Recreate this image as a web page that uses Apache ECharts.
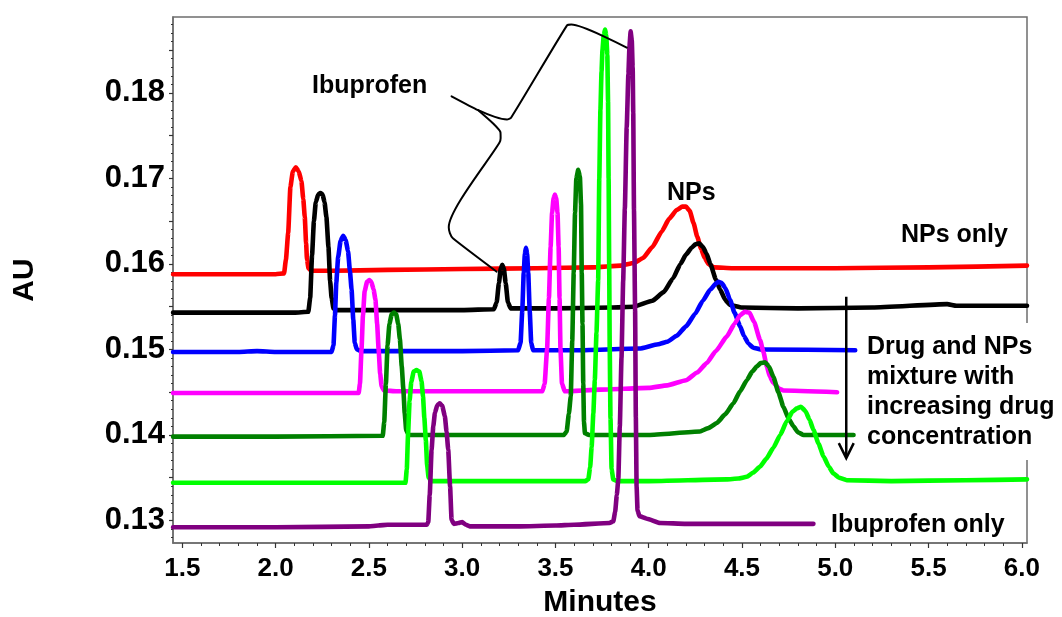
<!DOCTYPE html>
<html>
<head>
<meta charset="utf-8">
<script src="https://cdn.jsdelivr.net/npm/echarts@6/dist/echarts.min.js"></script>
<style>
  html, body { margin: 0; padding: 0; background: #fff; }
  #chart { width: 1062px; height: 617px; }
</style>
</head>
<body>
<div id="chart"></div>
<script>
// Chromatograms: absorbance (AU) against retention time (minutes), [minute, AU] pairs.
const npsOnly = [
  [1.45,0.1588],[1.80,0.1588],[2.00,0.1588],[2.045,0.1589],[2.055,0.1605],[2.067,0.1636],[2.079,0.1690],
  [2.092,0.1708],[2.108,0.1713],[2.124,0.1708],[2.138,0.1697],[2.148,0.1676],[2.156,0.1655],[2.163,0.1625],
  [2.168,0.1605],[2.176,0.1595],[2.19,0.1592],[2.30,0.1592],[2.60,0.1593],[3.00,0.1594],[3.40,0.1595],
  [3.70,0.1596],[3.85,0.1598],[3.92,0.1601],[3.97,0.1607],[4.02,0.1620],[4.07,0.1638],[4.11,0.1653],
  [4.15,0.1663],[4.18,0.1667],[4.20,0.1667],[4.22,0.1662],[4.24,0.1648],[4.26,0.1632],[4.28,0.1618],
  [4.30,0.1607],[4.32,0.1600],[4.35,0.1596],[4.45,0.1595],[5.00,0.1595],[5.50,0.1596],[6.028,0.1598]
];
const mixture1 = [
  [1.45,0.1543],[1.80,0.1543],[2.10,0.1543],[2.175,0.1544],[2.185,0.1560],[2.195,0.1610],[2.205,0.1650],
  [2.215,0.1672],[2.228,0.1681],[2.240,0.1683],[2.252,0.1681],[2.262,0.1672],[2.272,0.1655],[2.283,0.1620],
  [2.292,0.1580],[2.300,0.1560],[2.310,0.1548],[2.33,0.1546],[2.60,0.1546],[3.00,0.1546],[3.17,0.1547],
  [3.185,0.1555],[3.197,0.1578],[3.207,0.1595],[3.215,0.1599],[3.223,0.1595],[3.233,0.1578],[3.245,0.1555],
  [3.26,0.1548],[3.50,0.1548],[3.80,0.1549],[3.92,0.1550],[4.02,0.1557],[4.08,0.1567],[4.13,0.1583],
  [4.17,0.1600],[4.20,0.1611],[4.23,0.1619],[4.25,0.1623],[4.27,0.1624],[4.29,0.1620],[4.31,0.1612],
  [4.33,0.1600],[4.36,0.1582],[4.383,0.1570],[4.41,0.1558],[4.436,0.1552],[4.50,0.1549],[4.80,0.1548],
  [5.20,0.1549],[5.60,0.1553],[5.65,0.1551],[6.028,0.1551]
];
const mixture2 = [
  [1.45,0.1497],[1.80,0.1497],[1.90,0.1498],[2.00,0.1497],[2.30,0.1497],[2.31,0.1505],[2.318,0.1540],
  [2.325,0.1578],[2.335,0.1608],[2.348,0.1627],[2.362,0.1633],[2.375,0.1628],[2.388,0.1615],[2.398,0.1592],
  [2.407,0.1570],[2.416,0.1535],[2.424,0.1508],[2.435,0.1500],[2.46,0.1498],[3.00,0.1498],[3.30,0.1499],
  [3.313,0.1508],[3.322,0.1545],[3.330,0.1590],[3.336,0.1612],[3.342,0.1619],[3.348,0.1612],[3.354,0.1590],
  [3.362,0.1545],[3.370,0.1508],[3.38,0.1499],[3.60,0.1499],[3.95,0.1501],[4.05,0.1506],[4.10,0.1509],
  [4.15,0.1516],[4.20,0.1527],[4.25,0.1542],[4.29,0.1557],[4.33,0.1570],[4.36,0.1577],[4.375,0.1579],
  [4.39,0.1578],[4.41,0.1572],[4.436,0.1558],[4.46,0.1543],[4.49,0.1527],[4.51,0.1516],[4.534,0.1507],
  [4.56,0.1502],[4.60,0.1500],[5.107,0.1499]
];
const mixture3 = [
  [1.45,0.1449],[2.00,0.1449],[2.445,0.1449],[2.452,0.1460],[2.460,0.1499],[2.468,0.1540],[2.477,0.1568],
  [2.490,0.1579],[2.501,0.1581],[2.513,0.1579],[2.525,0.1570],[2.535,0.1558],[2.544,0.1530],[2.552,0.1500],
  [2.560,0.1472],[2.568,0.1457],[2.58,0.1452],[2.65,0.1451],[3.00,0.1451],[3.43,0.1451],[3.442,0.1460],
  [3.455,0.1500],[3.465,0.1560],[3.474,0.1620],[3.482,0.1660],[3.490,0.1677],[3.497,0.1681],[3.504,0.1677],
  [3.511,0.1660],[3.517,0.1620],[3.522,0.1560],[3.527,0.1500],[3.535,0.1460],[3.55,0.1451],[3.74,0.1453],
  [4.00,0.1455],[4.10,0.1458],[4.20,0.1464],[4.26,0.1473],[4.311,0.1484],[4.36,0.1498],[4.418,0.1515],
  [4.46,0.1530],[4.49,0.1540],[4.515,0.1544],[4.54,0.1543],[4.565,0.1532],[4.597,0.1511],[4.615,0.1497],
  [4.633,0.1480],[4.65,0.1468],[4.668,0.1461],[4.70,0.1454],[4.722,0.1452],[5.01,0.1450]
];
const mixture4 = [
  [1.45,0.1398],[2.00,0.1398],[2.574,0.1399],[2.582,0.1415],[2.591,0.1460],[2.600,0.1505],[2.610,0.1530],
  [2.622,0.1541],[2.634,0.1543],[2.646,0.1541],[2.657,0.1530],[2.666,0.1512],[2.676,0.1480],[2.684,0.1455],
  [2.692,0.1425],[2.700,0.1405],[2.715,0.1400],[3.00,0.1400],[3.545,0.1400],[3.560,0.1404],[3.572,0.1425],
  [3.582,0.1445],[3.590,0.1510],[3.598,0.1590],[3.605,0.1660],[3.612,0.1700],[3.622,0.1710],[3.631,0.1702],
  [3.637,0.1670],[3.641,0.1590],[3.645,0.1530],[3.649,0.1460],[3.653,0.1415],[3.658,0.1402],[3.68,0.1400],
  [4.00,0.1400],[4.275,0.1404],[4.32,0.1408],[4.365,0.1414],[4.41,0.1424],[4.454,0.1437],[4.49,0.1451],
  [4.526,0.1464],[4.555,0.1474],[4.579,0.1480],[4.600,0.1484],[4.624,0.1485],[4.645,0.1480],[4.668,0.1468],
  [4.695,0.1450],[4.722,0.1433],[4.75,0.1419],[4.776,0.1410],[4.80,0.1403],[4.83,0.1400],[5.098,0.1400]
];
const mixture5 = [
  [1.45,0.1344],[2.00,0.1344],[2.696,0.1344],[2.703,0.1360],[2.710,0.1402],[2.718,0.1440],[2.727,0.1462],
  [2.740,0.1474],[2.755,0.1476],[2.770,0.1474],[2.782,0.1463],[2.790,0.1445],[2.797,0.1420],[2.805,0.1394],
  [2.812,0.1365],[2.820,0.1350],[2.835,0.1346],[3.00,0.1346],[3.40,0.1346],[3.66,0.1346],[3.676,0.1348],
  [3.686,0.1362],[3.694,0.1386],[3.703,0.1425],[3.711,0.1464],[3.720,0.1520],[3.729,0.1581],[3.735,0.1700],
  [3.741,0.1780],[3.747,0.1825],[3.752,0.1850],[3.759,0.1868],[3.766,0.1874],[3.772,0.1868],[3.778,0.1845],
  [3.782,0.1790],[3.785,0.1700],[3.788,0.1600],[3.791,0.1500],[3.795,0.1420],[3.801,0.1360],[3.81,0.1348],
  [3.83,0.1346],[4.00,0.1346],[4.418,0.1348],[4.48,0.1349],[4.526,0.1351],[4.56,0.1356],[4.597,0.1363],
  [4.63,0.1372],[4.668,0.1385],[4.705,0.1400],[4.74,0.1416],[4.77,0.1427],[4.794,0.1431],[4.816,0.1433],
  [4.84,0.1428],[4.862,0.1418],[4.883,0.1406],[4.91,0.1390],[4.937,0.1375],[4.965,0.1363],[4.990,0.1355],
  [5.02,0.1350],[5.062,0.1347],[5.30,0.1346],[5.70,0.1347],[6.028,0.1348]
];
const ibuprofenOnly = [
  [1.45,0.1292],[2.00,0.1292],[2.50,0.1293],[2.55,0.1294],[2.60,0.1295],[2.81,0.1295],[2.818,0.1298],
  [2.826,0.1330],[2.836,0.1383],[2.845,0.1410],[2.854,0.1426],[2.867,0.1435],[2.880,0.1437],[2.893,0.1434],
  [2.907,0.1422],[2.916,0.1404],[2.925,0.1383],[2.935,0.1340],[2.943,0.1301],[2.955,0.1296],[2.98,0.1297],
  [3.00,0.1298],[3.02,0.1295],[3.04,0.1293],[3.30,0.1293],[3.50,0.1294],[3.60,0.1295],[3.79,0.1297],
  [3.810,0.1299],[3.820,0.1310],[3.829,0.1330],[3.837,0.1348],[3.845,0.1410],[3.854,0.1490],[3.863,0.1580],
  [3.872,0.1665],[3.882,0.1760],[3.891,0.1822],[3.897,0.1855],[3.903,0.1872],[3.909,0.1862],[3.914,0.1830],
  [3.917,0.1777],[3.921,0.1663],[3.927,0.1546],[3.931,0.1420],[3.935,0.1340],[3.940,0.1312],[3.950,0.1305],
  [3.99,0.1302],[4.06,0.1297],[4.20,0.1296],[4.50,0.1296],[4.883,0.1296]
];

// Callout lines from the "Ibuprofen" label to the drug peaks, and the concentration arrow.
const calloutUpper = [
  [2.943,0.17961],[3.086,0.17798],[3.175,0.17720],[3.240,0.17690],[3.262,0.17710],
  [3.562,0.18790],[3.585,0.18800],[3.882,0.18530]
];
const calloutLower = [
  [3.086,0.17798],[3.166,0.17643],[3.205,0.17540],[3.206,0.17470],[3.200,0.17420],
  [2.928,0.16430],[2.934,0.16360],[2.950,0.16300],[3.185,0.15909]
];
const arrowShaft = [[5.059,0.15617],[5.059,0.13740]];
const arrowHead = [[5.019,0.13904],[5.059,0.13729],[5.099,0.13904]];

const xTickLabels = [1.5, 2.0, 2.5, 3.0, 3.5, 4.0, 4.5, 5.0, 5.5, 6.0];
const yTickLabels = [0.13, 0.14, 0.15, 0.16, 0.17, 0.18];
const yMajorTicks = [0.13, 0.135, 0.14, 0.145, 0.15, 0.155, 0.16, 0.165, 0.17, 0.175, 0.18, 0.185];

const X_MIN = 1.4496, X_MAX = 6.028;
const Y_MIN = 0.12736, Y_MAX = 0.18888;

const xMinorTicks = [];
for (let i = 15; i <= 60; i++) xMinorTicks.push(i / 10);
const yMinorTicks = [];
for (let i = 128; i <= 188; i++) yMinorTicks.push(i / 1000);

const FONT = '"Liberation Sans", Arial, Helvetica, sans-serif';
const AXIS_GREY = '#6e6e6e';

function trace(name, data, color, width) {
  return {
    name, type: 'line', data, showSymbol: false, silent: true,
    smooth: 0.15, smoothMonotone: 'x',
    lineStyle: { color, width: width || 4.6, cap: 'round', join: 'round' }
  };
}
function thin(name, data) {
  return {
    name, type: 'line', data, showSymbol: false, silent: true, smooth: 0.2,
    lineStyle: { color: '#000', width: 2, cap: 'round', join: 'round' }, z: 5
  };
}

const chart = echarts.init(document.getElementById('chart'), null, { renderer: 'canvas' });
chart.setOption({
  animation: false,
  backgroundColor: '#fff',
  grid: {
    left: 173, right: 35, top: 17, bottom: 74,
    outerBoundsMode: 'none', containLabel: false,
    show: true, borderColor: AXIS_GREY, borderWidth: 1.5, backgroundColor: 'transparent'
  },
  xAxis: [
    {
      type: 'value', min: X_MIN, max: X_MAX, position: 'bottom',
      axisLine: { show: true, lineStyle: { color: AXIS_GREY, width: 1.5 } },
      axisTick: { show: true, customValues: xTickLabels, length: 5, lineStyle: { color: '#333', width: 1.2 } },
      axisLabel: {
        customValues: xTickLabels, formatter: v => v.toFixed(1), margin: 13,
        fontSize: 26, fontWeight: 'bold', color: '#000', fontFamily: FONT
      },
      splitLine: { show: false },
      name: 'Minutes', nameLocation: 'middle', nameGap: 45,
      nameTextStyle: { fontSize: 30, fontWeight: 'bold', color: '#000', fontFamily: FONT }
    },
    {
      type: 'value', min: X_MIN, max: X_MAX, position: 'bottom',
      axisLine: { show: false },
      axisTick: { show: true, customValues: xMinorTicks, length: 3, lineStyle: { color: '#333', width: 1 } },
      axisLabel: { show: false }, splitLine: { show: false }
    }
  ],
  yAxis: [
    {
      type: 'value', min: Y_MIN, max: Y_MAX, position: 'left',
      axisLine: { show: true, lineStyle: { color: AXIS_GREY, width: 1.5 } },
      axisTick: { show: true, customValues: yMajorTicks, length: 4, lineStyle: { color: '#333', width: 1.2 } },
      axisLabel: {
        customValues: yTickLabels, formatter: v => v.toFixed(2), margin: 8, padding: [5, 0, 0, 0],
        fontSize: 31, fontWeight: 'bold', color: '#000', fontFamily: FONT
      },
      splitLine: { show: false },
      name: 'AU', nameLocation: 'middle', nameGap: 133,
      nameTextStyle: { fontSize: 30, fontWeight: 'bold', color: '#000', fontFamily: FONT }
    },
    {
      type: 'value', min: Y_MIN, max: Y_MAX, position: 'left',
      axisLine: { show: false },
      axisTick: { show: true, customValues: yMinorTicks, length: 2, lineStyle: { color: '#333', width: 1 } },
      axisLabel: { show: false }, splitLine: { show: false }
    }
  ],
  series: [
    trace('NPs only', npsOnly, '#ff0000'),
    trace('Mixture 1', mixture1, '#000000'),
    trace('Mixture 2', mixture2, '#0000ff'),
    trace('Mixture 3', mixture3, '#ff00ff'),
    trace('Mixture 4', mixture4, '#008000'),
    trace('Mixture 5', mixture5, '#00ff00'),
    trace('Ibuprofen only', ibuprofenOnly, '#800080'),
    thin('callout upper', calloutUpper),
    thin('callout lower', calloutLower),
    Object.assign(thin('arrow shaft', arrowShaft), { smooth: false, lineStyle: { color: '#000', width: 2.5 } }),
    Object.assign(thin('arrow head', arrowHead), { smooth: false, lineStyle: { color: '#000', width: 2.5, join: 'miter' } })
  ],
  graphic: [
    { type: 'text', z: 100, style: { text: 'Ibuprofen', x: 312, y: 86, fill: '#000', font: 'bold 25px ' + FONT, textAlign: 'left', textVerticalAlign: 'middle' } },
    { type: 'text', z: 100, style: { text: 'NPs', x: 667, y: 193, fill: '#000', font: 'bold 25px ' + FONT, textAlign: 'left', textVerticalAlign: 'middle' } },
    { type: 'text', z: 100, style: { text: 'NPs only', x: 901, y: 235, fill: '#000', font: 'bold 25px ' + FONT, textAlign: 'left', textVerticalAlign: 'middle' } },
    { type: 'rect', z: 99, shape: { x: 862, y: 323, width: 200, height: 137 }, style: { fill: '#fff' } },
    { type: 'text', z: 100, style: {
        text: 'Drug and NPs\nmixture with\nincreasing drug\nconcentration',
        x: 867, y: 331.7, fill: '#000', font: 'bold 25px ' + FONT, lineHeight: 30,
        textAlign: 'left', textVerticalAlign: 'top' } },
    { type: 'text', z: 100, style: { text: 'Ibuprofen only', x: 831, y: 525, fill: '#000', font: 'bold 25px ' + FONT, textAlign: 'left', textVerticalAlign: 'middle' } }
  ]
});
</script>
</body>
</html>
